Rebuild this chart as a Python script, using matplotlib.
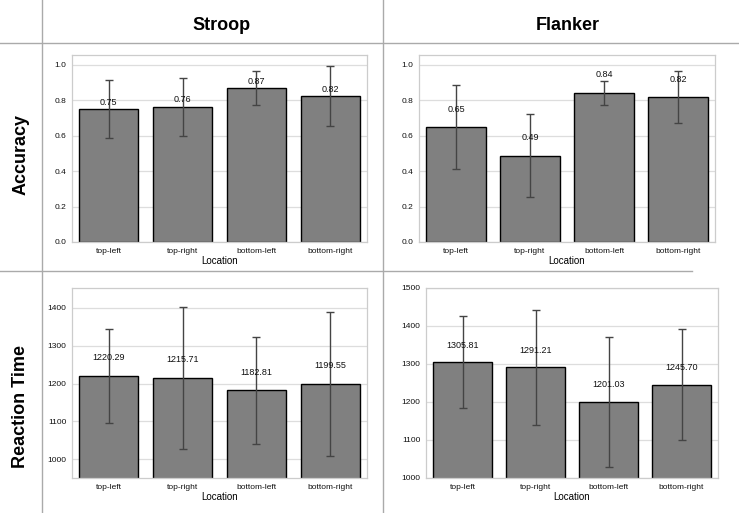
import matplotlib
matplotlib.use('Agg')
import matplotlib.pyplot as plt
from matplotlib.lines import Line2D

plt.rcParams['font.family'] = ['Liberation Sans', 'DejaVu Sans']

# data
locations = ['top-left', 'top-right', 'bottom-left', 'bottom-right']

stroop_acc     = [0.75, 0.764, 0.869, 0.822]
stroop_acc_err = [0.165, 0.164, 0.098, 0.169]
flanker_acc     = [0.648, 0.488, 0.841, 0.817]
flanker_acc_err = [0.236, 0.235, 0.067, 0.146]

stroop_rt     = [1220.29, 1215.71, 1182.81, 1199.55]
stroop_rt_err = [124, 187, 141, 190]
flanker_rt     = [1305.81, 1291.21, 1201.03, 1245.70]
flanker_rt_err = [121, 152, 171, 147]

tasks   = ['Stroop', 'Flanker']
metrics = ['Accuracy', 'Reaction Time']

W, H = 739, 513
LINE_COLOR = '#aaaaaa'


def px_axes(fig, x0, y0, x1, y1):
    ''' axes from pixel box (top-left origin) '''
    return fig.add_axes([x0 / W, 1 - y1 / H, (x1 - x0) / W, (y1 - y0) / H])


def bar_panel(ax, means, errs, ylim, yticks, fmt, label_offset):
    xs = range(len(locations))
    ax.bar(xs, means, width=0.8, color='#808080', edgecolor='black',
           linewidth=1.0, zorder=2)
    ax.errorbar(xs, means, yerr=errs, fmt='none', ecolor='#444444',
                elinewidth=1.0, capsize=3, capthick=1.0, zorder=3)
    for x, m in zip(xs, means):
        ax.annotate(format(m, '.2f'), (x, m), xytext=(0, label_offset),
                    textcoords='offset points', ha='center', va='center',
                    fontsize=6.5, color='#111111', zorder=4)
    ax.set_xlim(-0.5, 3.5)
    ax.set_ylim(*ylim)
    ax.set_yticks(yticks)
    ax.set_yticklabels([fmt.format(t) for t in yticks])
    ax.set_xticks(list(xs))
    ax.set_xticklabels(locations)
    ax.set_xlabel('Location', fontsize=7, labelpad=1)
    ax.tick_params(length=0, labelsize=6, pad=4, colors='#111111')
    ax.grid(axis='y', color='#dddddd', linewidth=0.9, zorder=0)
    ax.set_axisbelow(True)
    for s in ax.spines.values():
        s.set_color('#cccccc')
        s.set_linewidth(0.9)


fig = plt.figure(figsize=(W / 100, H / 100), dpi=100)

acc_ticks = [0.0, 0.2, 0.4, 0.6, 0.8, 1.0]

ax = px_axes(fig, 72, 55, 367, 242)
bar_panel(ax, stroop_acc, stroop_acc_err, (0, 1.055), acc_ticks, '{:.1f}', 5)

ax = px_axes(fig, 419, 55, 715, 242)
bar_panel(ax, flanker_acc, flanker_acc_err, (0, 1.055), acc_ticks, '{:.1f}', 13)

ax = px_axes(fig, 72, 288, 367, 478)
bar_panel(ax, stroop_rt, stroop_rt_err, (951, 1452),
          [1000, 1100, 1200, 1300, 1400], '{:d}', 13)

ax = px_axes(fig, 426, 288, 718, 478)
bar_panel(ax, flanker_rt, flanker_rt_err, (1000, 1500),
          [1000, 1100, 1200, 1300, 1400, 1500], '{:d}', 12)

# table-like frame lines
def fig_line(x0, y0, x1, y1):
    fig.add_artist(Line2D([x0 / W, x1 / W], [1 - y0 / H, 1 - y1 / H],
                          color=LINE_COLOR, linewidth=1.0))

fig_line(42, 0, 42, H)
fig_line(383, 0, 383, H)
fig_line(0, 43, W, 43)
fig_line(0, 271, 692, 271)

# headers
for name, xc in zip(tasks, [222, 568]):
    fig.text(xc / W, 1 - 26 / H, name, ha='center', va='center',
             fontsize=13, fontweight='bold')
for name, yc in zip(metrics, [155, 406]):
    fig.text(21 / W, 1 - yc / H, name, ha='center', va='center',
             rotation=90, fontsize=13, fontweight='bold')

fig.savefig('out.png', dpi=100)
